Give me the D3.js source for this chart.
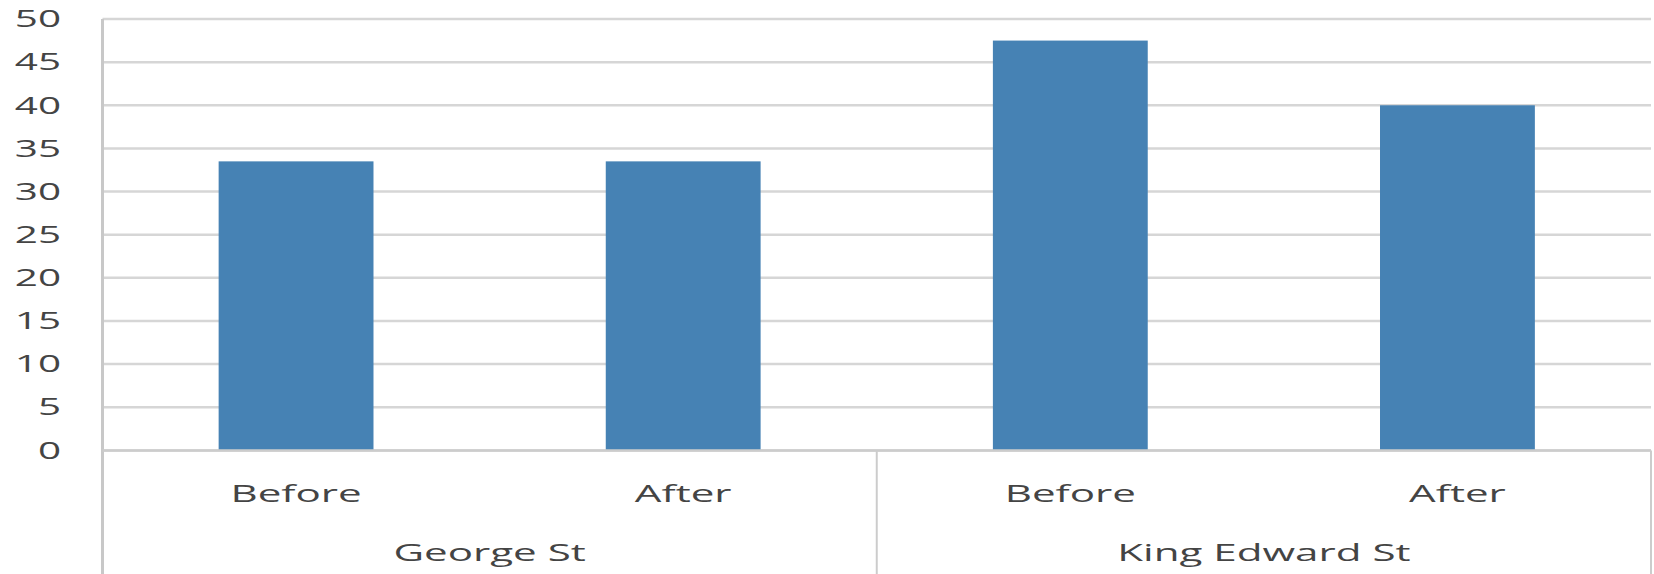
<!DOCTYPE html>
<html>
<head>
<meta charset="utf-8">
<script src="https://cdn.jsdelivr.net/npm/d3@7"></script>
<style>
  html, body { margin: 0; padding: 0; background: #ffffff; }
  svg { display: block; }
  text { font-family: "Open Sans", "Liberation Sans", sans-serif; fill: #444444; }
</style>
</head>
<body>
<svg id="chart" width="1654" height="574"></svg>
<script>
// Speeds on two streets, before and after the change
const streets = ["George St", "King Edward St"];
const periods = ["Before", "After"];
const beforeValues = [33.5, 47.5];
const afterValues = [33.5, 40];
const yTicks = [0, 5, 10, 15, 20, 25, 30, 35, 40, 45, 50];

// one row per bar, in drawing order
const rows = [];
streets.forEach((s, i) => {
  rows.push({ street: s, period: periods[0], value: beforeValues[i] });
  rows.push({ street: s, period: periods[1], value: afterValues[i] });
});

const W = 1654, H = 574;
const plotLeft = 102.5, plotRight = 1651, plotTop = 19, plotBase = 450.4;
const textScaleX = 1.72;   // wide lettering
const tickFontSize = 23.5;
const catFontSize = 24.5;

const svg = d3.select("#chart");

const x = d3.scaleBand()
  .domain(rows.map((d, i) => i))
  .range([plotLeft, plotRight])
  .paddingInner(0.6)
  .paddingOuter(0.3);

const y = d3.scaleLinear().domain([0, 50]).range([plotBase, plotTop]);

// horizontal gridlines
svg.append("g")
  .selectAll("line")
  .data(yTicks)
  .join("line")
  .attr("x1", plotLeft)
  .attr("x2", plotRight)
  .attr("y1", d => y(d))
  .attr("y2", d => y(d))
  .attr("stroke", "#d6d6d6")
  .attr("stroke-width", 2.5);

// bars
svg.append("g")
  .selectAll("rect")
  .data(rows)
  .join("rect")
  .attr("x", (d, i) => x(i))
  .attr("width", x.bandwidth())
  .attr("y", d => y(d.value))
  .attr("height", d => y(0) - y(d.value))
  .attr("fill", "#4682b4");

// value axis line and category-table borders
const step = x.step();
const groupEdges = d3.range(streets.length + 1).map(i => plotLeft + i * 2 * step);
svg.append("line")
  .attr("x1", plotLeft).attr("x2", plotLeft)
  .attr("y1", plotTop).attr("y2", H)
  .attr("stroke", "#c8c8c8").attr("stroke-width", 3);
svg.append("line")
  .attr("x1", plotLeft).attr("x2", plotRight)
  .attr("y1", plotBase).attr("y2", plotBase)
  .attr("stroke", "#cccccc").attr("stroke-width", 2.5);
svg.append("g")
  .selectAll("line")
  .data(groupEdges.slice(1))
  .join("line")
  .attr("x1", d => d).attr("x2", d => d)
  .attr("y1", plotBase).attr("y2", H)
  .attr("stroke", "#cccccc").attr("stroke-width", 2);

// y tick labels
svg.append("g")
  .selectAll("text")
  .data(yTicks)
  .join("text")
  .attr("transform", d => `translate(61,${y(d)}) scale(${textScaleX},1)`)
  .attr("text-anchor", "end")
  .attr("dy", "0.35em")
  .attr("font-size", tickFontSize)
  .text(d => d);

// period labels
svg.append("g")
  .selectAll("text")
  .data(rows)
  .join("text")
  .attr("transform", (d, i) => `translate(${x(i) + x.bandwidth() / 2},502) scale(${textScaleX},1)`)
  .attr("text-anchor", "middle")
  .attr("font-size", catFontSize)
  .text(d => d.period);

// street labels
svg.append("g")
  .selectAll("text")
  .data(streets)
  .join("text")
  .attr("transform", (d, i) => `translate(${(groupEdges[i] + groupEdges[i + 1]) / 2},561) scale(${textScaleX},1)`)
  .attr("text-anchor", "middle")
  .attr("font-size", catFontSize)
  .text(d => d);
</script>
</body>
</html>
